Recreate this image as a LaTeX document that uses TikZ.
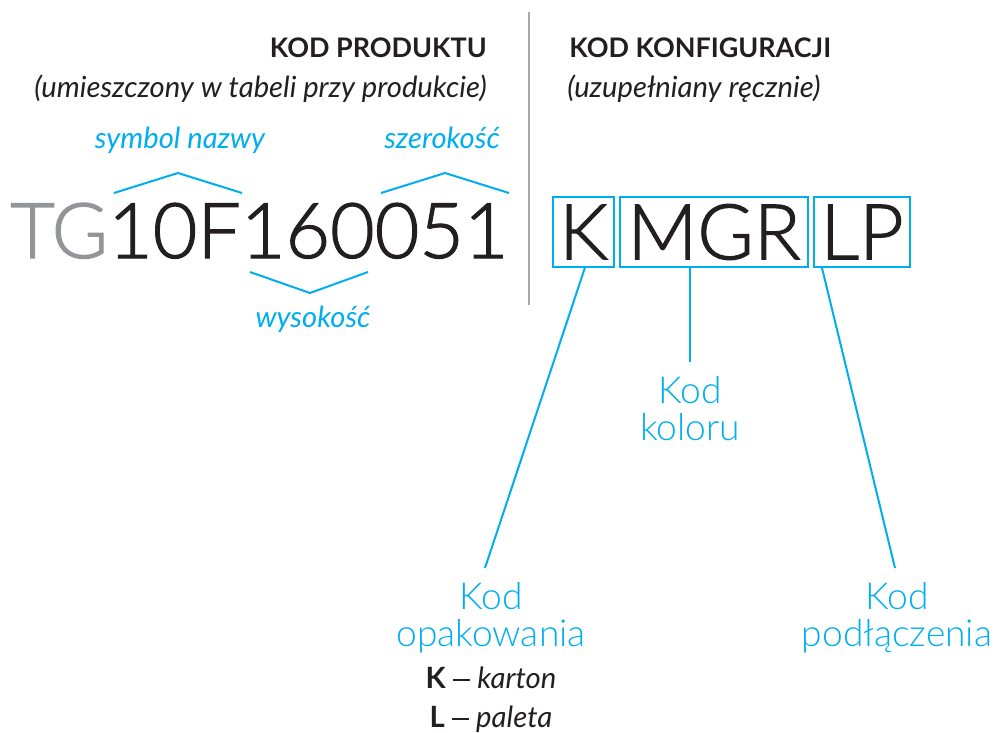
\documentclass[tikz,border=0pt]{standalone}
\usepackage{fontspec}
\setmainfont{Lato}
\newfontfamily\lightf{Lato Light}
\newfontfamily\lightbig[FakeBold=1.5]{Lato Light}
\definecolor{cblue}{HTML}{00AEEF}
\definecolor{cgray}{HTML}{939598}
\definecolor{cblack}{HTML}{231F20}
\definecolor{cline}{HTML}{A7A9AC}
\newcommand{\optdash}{\hspace{0.25em}\rule[5.2pt]{12.5pt}{1.2pt}\hspace{0.25em}}
\tikzset{
  head/.style={inner sep=0pt, text=cblack, font=\fontsize{20.2}{24}\selectfont\bfseries},
  sub/.style={inner sep=0pt, text=cblack, font=\fontsize{21.9}{26}\selectfont\itshape},
  tag/.style={inner sep=0pt, text=cblue, font=\fontsize{21.9}{26}\selectfont\itshape},
  big/.style={inner sep=0pt, text=cblack, font=\fontsize{57.7}{62}\lightbig},
  codebox/.style={draw=cblue, line width=1.5pt, inner sep=0pt, minimum height=52.5pt, text=cblack, font=\fontsize{57.7}{62}\lightbig},
  lbl/.style={inner xsep=0pt, text=cblue, align=center, font=\fontsize{27.9}{28}\lightf},
  conn/.style={draw=cblue, line width=1.5pt},
  chev/.style={draw=cblue, line width=1.5pt},
  opt/.style={inner sep=0pt, text=cblack, font=\fontsize{22}{26}\selectfont}
}
\begin{document}
\begin{tikzpicture}[x=0.75pt,y=-0.75pt]
\useasboundingbox (0,0) rectangle (995,732);
% divider
\draw[cline, line width=1.5pt] (528.5,12) -- (528.5,305);
% headings
\node[head, anchor=base east] (hprod) at (487,57) {KOD PRODUKTU};
\node[sub, anchor=base east] (sprod) at (487,97) {(umieszczony w tabeli przy produkcie)};
\node[head, anchor=base west] (hkonf) at (569,57) {KOD KONFIGURACJI};
\node[sub, anchor=base west] (skonf) at (567,97) {(uzupełniany ręcznie)};
% product code
\node[big, anchor=base west] (code) at (10,258) {\textcolor{cgray}{TG}10F160051};
% tags
\node[tag, anchor=base] (tsym) at (180,148) {symbol nazwy};
\node[tag, anchor=base] (tsze) at (442,148) {szerokość};
\node[tag, anchor=base] (twys) at (313,327) {wysokość};
% chevrons
\draw[chev] (114,193) -- (178,173) -- (242,193);
\draw[chev] (381,193) -- (445,173) -- (509,193);
\draw[chev] (250,272) -- (310,293) -- (368,272);
% configuration boxes
\node[codebox, minimum width=45.75pt] (kbox) at (583.5,232) {K};
\node[codebox, minimum width=141pt] (mgr) at (714,232) {MGR};
\node[codebox, minimum width=72pt] (lp) at (862,232) {LP};
% labels
\node[lbl, anchor=north, inner ysep=10.5pt] (opak) at (491,568) {Kod\\opakowania};
\node[lbl, anchor=north, inner ysep=10.5pt] (kol) at (690,362) {Kod\\koloru};
\node[lbl, anchor=north, inner ysep=10.5pt] (podl) at (897,568) {Kod\\podłączenia};
\node[opt, anchor=base] (optk) at (491,688) {\textbf{K}\optdash\textit{karton}};
\node[opt, anchor=base] (optl) at (491,727) {\textbf{L}\optdash\textit{paleta}};
% connectors
\draw[conn] ([xshift=1pt]kbox.south) -- ([xshift=-4.5pt]opak.north);
\draw[conn] ([xshift=-18pt]mgr.south) -- (kol.north);
\draw[conn] ([xshift=-30pt]lp.south) -- ([xshift=-1.5pt]podl.north);
\end{tikzpicture}
\end{document}
